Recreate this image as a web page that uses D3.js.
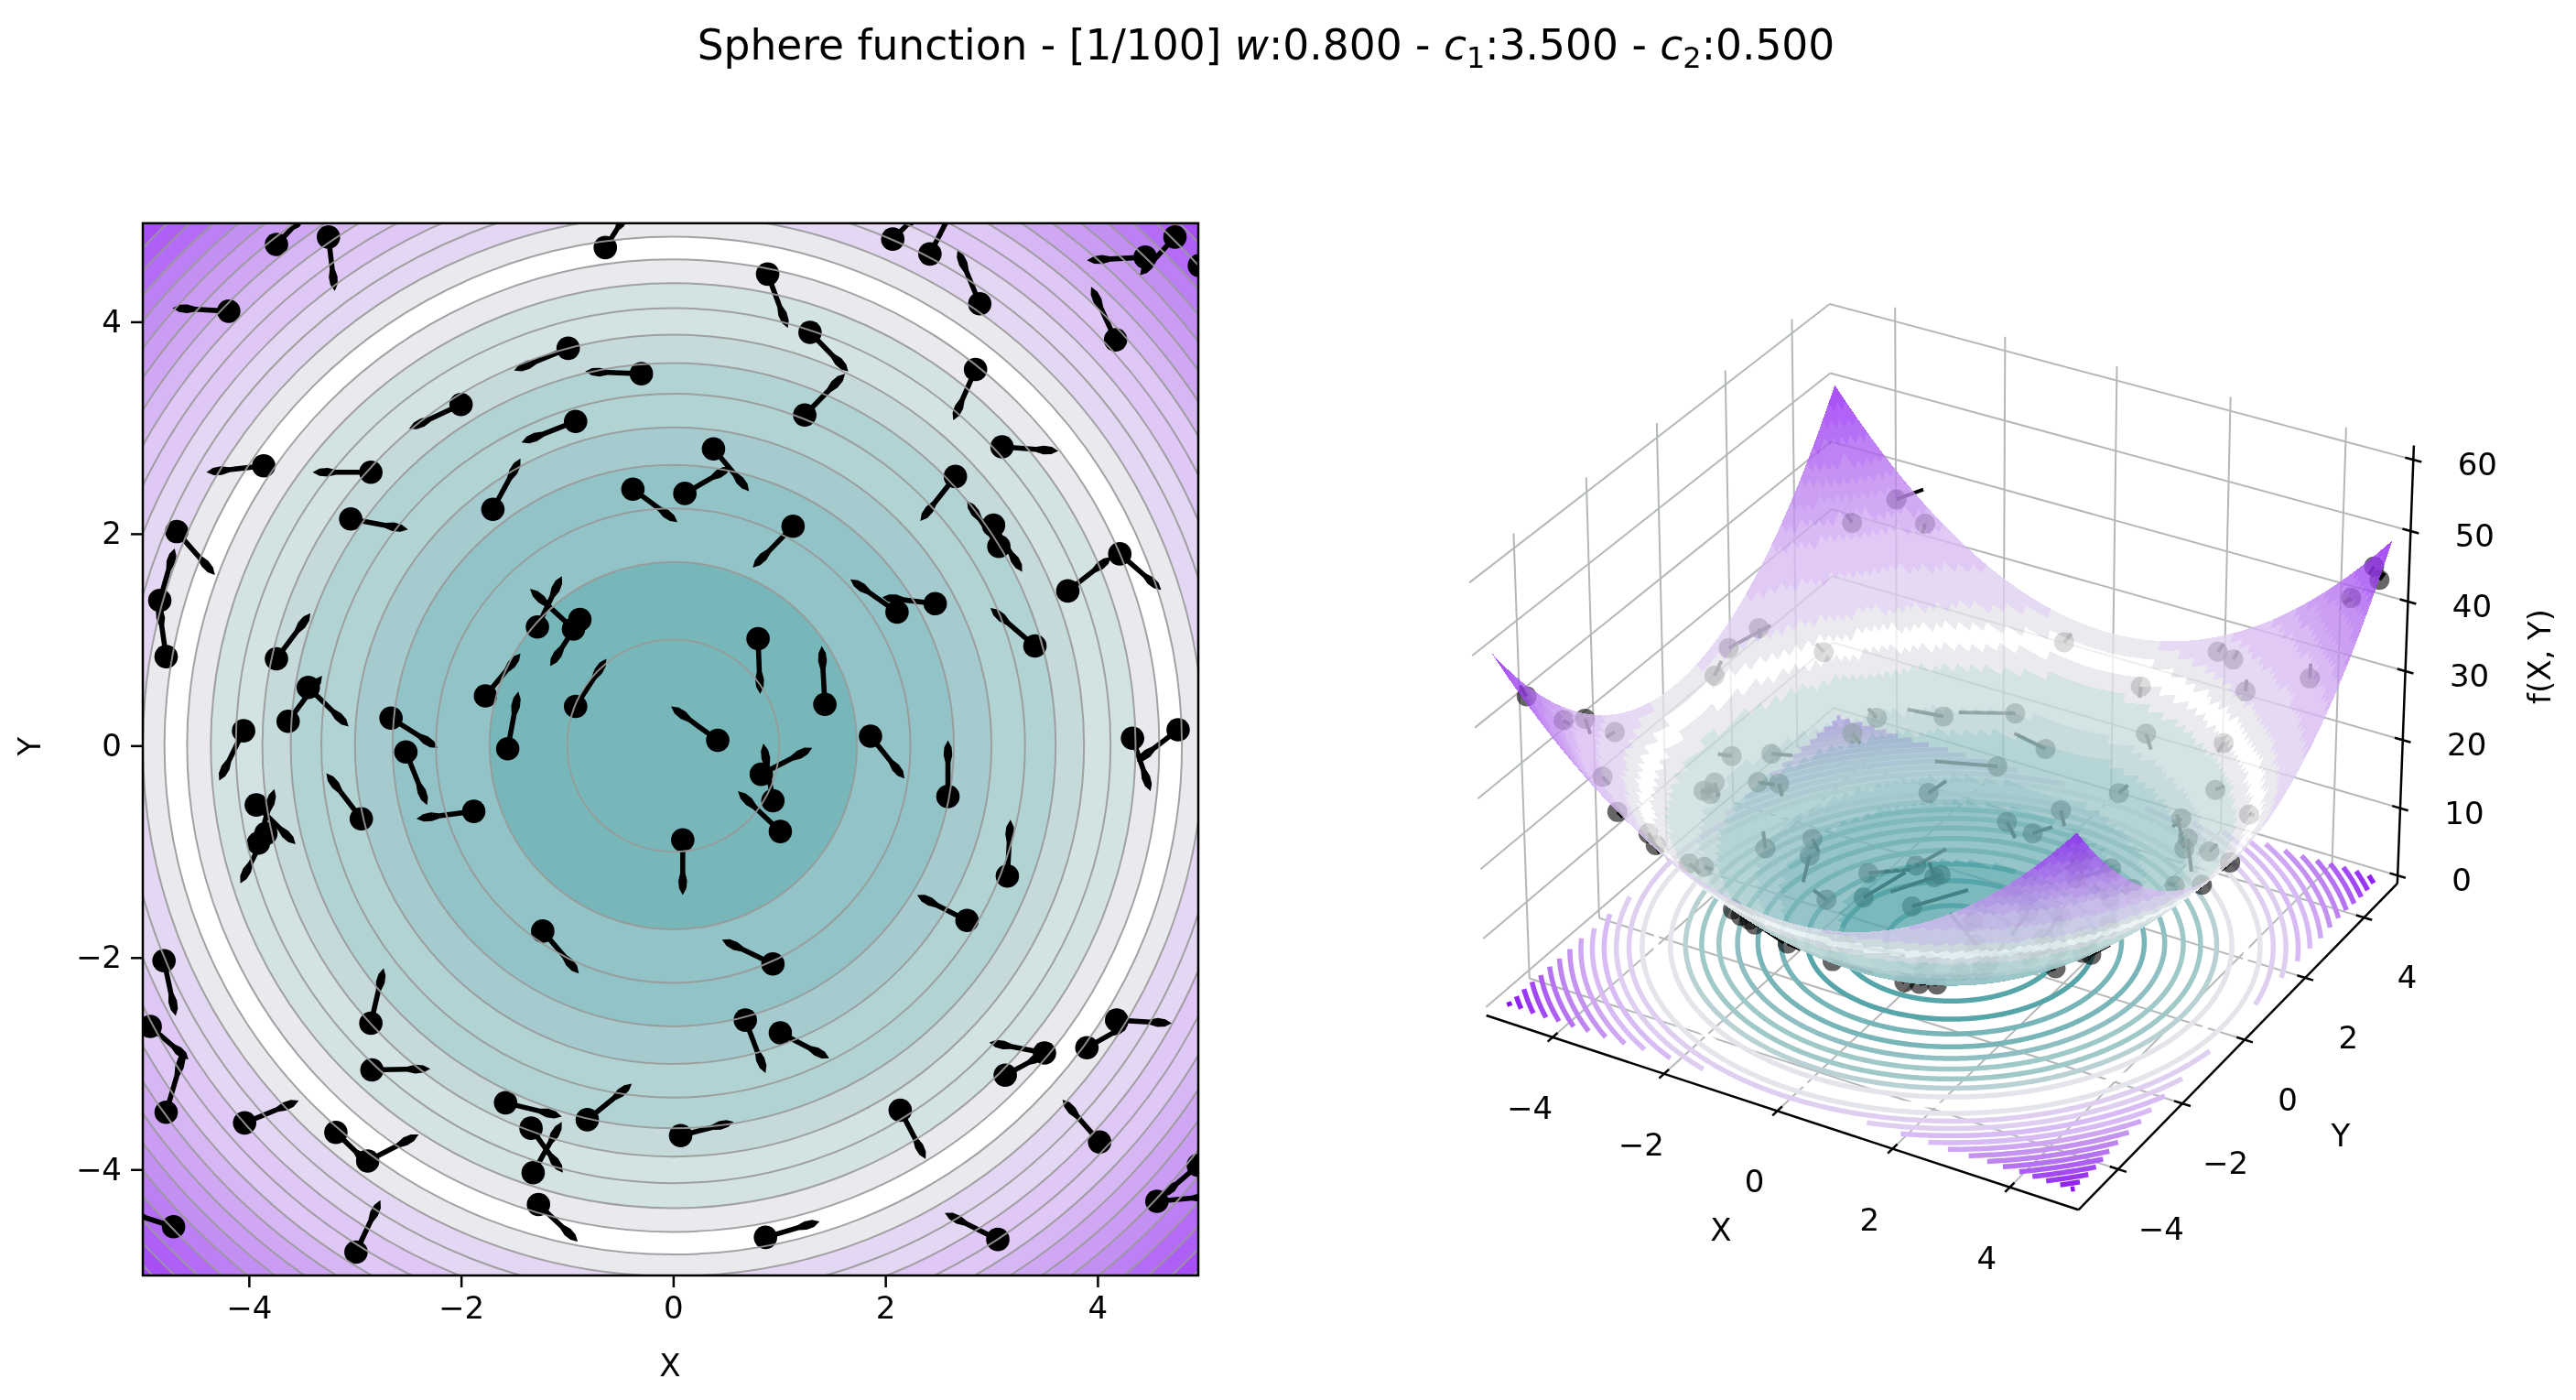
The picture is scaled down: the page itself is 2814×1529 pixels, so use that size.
<!DOCTYPE html>
<html>
<head>
<meta charset="utf-8">
<script src="https://d3js.org/d3.v7.min.js"></script>
<style>
  body { margin: 0; background: #fff; }
  svg { filter: blur(0.7px); }
  text { font-family: "DejaVu Sans", sans-serif; fill: #000; }
</style>
</head>
<body>
<svg id="chart" width="2814" height="1529"></svg>
<script>
  const xTicks = [-4, -2, 0, 2, 4];
  const yTicks = [-4, -2, 0, 2, 4];
  const zTicks = [0, 10, 20, 30, 40, 50, 60];

  const contourLevels = [1, 3, 5, 7, 9, 11, 13, 15, 17, 19, 21, 23, 25, 27, 29, 31, 33, 35, 37, 39, 41, 43, 45, 47, 49];
  const bandColors = ["#56a5a9", "#56a5a9", "#77b5b9", "#77b5b9", "#8fbfc3", "#9fc8c9", "#9fc8c9", "#b8d1d3", "#c8dddd", "#c8dddd",
    "#e4e4ea", "#ffffff", "#e4e4ea", "#decef0", "#decef0", "#d8baf4", "#d8baf4", "#cea6f1", "#c492f1", "#be84f0",
    "#b573f1", "#ac5ff2", "#a248f4", "#9a37f4", "#9224f3", "#8a14f2"];

  // particle positions and velocities
  const partX = [-3.74, -3.25, -4.19, -0.64, -0.99, -0.30, -2.00, -0.92, -3.86, -2.85, -1.70, -3.04, -4.68, -0.38, 0.11, 0.38,
    -4.84, -4.78, -3.74, -3.44, -3.63, -4.05, -2.66, -2.52, -1.28, -0.94, -0.88, -1.77, -1.56, -0.92, 0.42,
    2.07, 2.42, 2.89, 4.73, 4.45, 4.96, 4.17, 0.89, 1.29, 1.24, 2.85, 3.10, 2.66, 3.02, 3.07, 4.21, 3.72, 1.13, 2.47, 2.11, 3.41, 0.80, 1.43, 1.86, 2.59, 4.33, 4.76,
    0.83, 0.94, 1.01, 0.09, 3.15, 2.77, 0.94, 0.68, 1.01, 3.50, 3.13, 4.18, 3.90, 2.14, 0.07, 4.02, 0.87, 3.06, 4.56, 4.95,
    -3.93, -3.91, -3.84, -2.94, -1.88, -1.23, -4.80, -2.85, -2.84, -4.93, -4.78, -1.58, -1.34, -1.32, -0.81, -4.04, -3.18, -2.88, -1.27, -2.99, -4.71];
  const partY = [4.73, 4.80, 4.10, 4.70, 3.75, 3.51, 3.22, 3.06, 2.64, 2.58, 2.23, 2.14, 2.02, 2.42, 2.38, 2.80,
    1.37, 0.84, 0.82, 0.55, 0.23, 0.14, 0.26, -0.06, 1.12, 1.10, 1.19, 0.47, -0.03, 0.37, 0.05,
    4.78, 4.64, 4.17, 4.80, 4.61, 4.53, 3.83, 4.45, 3.90, 3.12, 3.55, 2.82, 2.54, 2.08, 1.88, 1.81, 1.46, 2.07, 1.34, 1.26, 0.94, 1.01, 0.39, 0.09, -0.48, 0.07, 0.15,
    -0.27, -0.52, -0.81, -0.89, -1.23, -1.65, -2.06, -2.59, -2.71, -2.90, -3.11, -2.59, -2.85, -3.44, -3.68, -3.74, -4.64, -4.66, -4.30, -3.96,
    -0.56, -0.92, -0.83, -0.69, -0.62, -1.75, -2.03, -2.62, -3.06, -2.65, -3.46, -3.37, -3.61, -4.03, -3.53, -3.56, -3.65, -3.92, -4.33, -4.78, -4.54];
  const velU = [0.25, 0.06, -0.53, 0.19, -0.51, -0.53, -0.49, -0.51, -0.54, -0.55, 0.26, 0.54, 0.36, 0.42, 0.43, 0.335,
    0.14, -0.07, 0.32, 0.38, 0.32, -0.23, 0.44, 0.20, 0.23, -0.41, -0.28, 0.33, 0.10, 0.29, -0.44,
    0.22, 0.24, -0.21, -0.33, -0.55, 0.40, -0.23, 0.19, 0.36, 0.38, -0.21, 0.53, -0.33, 0.27, -0.30, 0.39, 0.41, -0.38, -0.50, -0.44, -0.42, 0.02, -0.03, 0.32, 0.00, 0.17, -0.39,
    0.48, -0.09, -0.40, 0.00, 0.03, -0.47, -0.48, 0.19, 0.46, -0.52, 0.37, 0.52, 0.39, 0.24, 0.50, -0.35, 0.51, -0.50, 0.55, -0.34,
    0.37, 0.15, -0.24, -0.33, -0.54, 0.34, 0.11, 0.12, 0.55, 0.36, 0.17, 0.53, 0.30, 0.27, 0.42, 0.51, 0.31, 0.48, 0.37, 0.23, -0.44];
  const velV = [0.26, -0.51, 0.03, 0.30, -0.21, 0.02, -0.23, -0.20, -0.06, 0.00, 0.48, -0.10, -0.41, -0.31, 0.25, -0.40,
    0.49, 0.49, 0.43, -0.37, 0.43, -0.47, -0.28, -0.50, 0.48, 0.38, -0.44, 0.40, 0.54, 0.45, 0.32,
    0.22, 0.47, 0.51, -0.36, -0.03, 0.20, 0.50, -0.51, -0.37, 0.39, -0.48, -0.04, -0.42, -0.44, 0.43, -0.34, 0.32, -0.39, 0.06, 0.31, 0.36, -0.52, 0.55, -0.40, 0.53, -0.50, -0.30,
    0.25, 0.54, 0.38, -0.52, 0.53, 0.24, 0.23, -0.50, -0.24, 0.10, 0.20, -0.03, 0.22, -0.46, 0.13, 0.40, 0.15, 0.25, 0.05, -0.29,
    -0.37, 0.51, -0.47, 0.43, -0.07, -0.40, -0.52, 0.52, 0.01, -0.31, 0.58, -0.13, -0.42, 0.48, 0.34, 0.21, -0.30, 0.25, -0.35, 0.49, 0.14];

  const sphere = (x, y) => x * x + y * y;
  const particles = partX.map((x, i) => ({ x: x, y: partY[i], u: velU[i], v: velV[i] }));
  const bandColor = d3.scaleThreshold().domain(contourLevels).range(bandColors);

  const svg = d3.select("#chart");

  // ---------- title ----------
  const title = svg.append("text").attr("x", 1383).attr("y", 65).attr("text-anchor", "middle").style("font-size", "45.5px");
  title.append("tspan").text("Sphere function - [1/100] ");
  title.append("tspan").style("font-style", "italic").text("w");
  title.append("tspan").text(":0.800 - ");
  title.append("tspan").style("font-style", "italic").text("c");
  title.append("tspan").attr("dy", 9).style("font-size", "32px").text("1");
  title.append("tspan").attr("dy", -9).text(":3.500 - ");
  title.append("tspan").style("font-style", "italic").text("c");
  title.append("tspan").attr("dy", 9).style("font-size", "32px").text("2");
  title.append("tspan").attr("dy", -9).text(":0.500");

  // ---------- left panel ----------
  const x2d = d3.scaleLinear().domain([-5, 4.95]).range([156, 1309]);
  const y2d = d3.scaleLinear().domain([-5, 4.93]).range([1393, 243.8]);
  const radiusOf = lev => x2d(Math.sqrt(lev)) - x2d(0);

  svg.append("clipPath").attr("id", "plot2d").append("rect")
    .attr("x", x2d(-5)).attr("y", y2d(4.93))
    .attr("width", x2d(4.95) - x2d(-5)).attr("height", y2d(-5) - y2d(4.93));

  const panel = svg.append("g").attr("clip-path", "url(#plot2d)");
  const fills = panel.append("g").attr("opacity", 0.8);
  fills.append("rect")
    .attr("x", x2d(-5)).attr("y", y2d(4.93))
    .attr("width", x2d(4.95) - x2d(-5)).attr("height", y2d(-5) - y2d(4.93))
    .attr("fill", bandColors[bandColors.length - 1]);
  fills.selectAll("circle")
    .data(contourLevels.slice().reverse())
    .join("circle")
    .attr("cx", x2d(0)).attr("cy", y2d(0))
    .attr("r", radiusOf)
    .attr("fill", d => bandColors[contourLevels.indexOf(d)]);

  function arrowPath(d) {
    const x0 = x2d(d.x), y0 = y2d(d.y);
    const x1 = x2d(d.x + d.u), y1 = y2d(d.y + d.v);
    const len = Math.hypot(x1 - x0, y1 - y0);
    const ax = (x1 - x0) / len, ay = (y1 - y0) / len;
    const nx = -ay, ny = ax;
    const pt = (t, w) => [x0 + ax * len * t + nx * w, y0 + ay * len * t + ny * w];
    const prof = [[0, 2.8], [0.6, 2.8], [0.74, 4.8], [0.88, 4], [1, 0]];
    const p = d3.path();
    p.moveTo(...pt(0, 2.8));
    prof.forEach(q => p.lineTo(...pt(q[0], q[1])));
    prof.slice().reverse().forEach(q => p.lineTo(...pt(q[0], -q[1])));
    p.closePath();
    return p.toString();
  }

  panel.selectAll("path.arrow")
    .data(particles)
    .join("path")
    .attr("class", "arrow")
    .attr("d", arrowPath)
    .attr("fill", "#000");

  panel.selectAll("circle.part")
    .data(particles)
    .join("circle")
    .attr("class", "part")
    .attr("cx", d => x2d(d.x)).attr("cy", d => y2d(d.y))
    .attr("r", 12.8)
    .attr("fill", "#000");

  panel.selectAll("circle.level")
    .data(contourLevels)
    .join("circle")
    .attr("class", "level")
    .attr("cx", x2d(0)).attr("cy", y2d(0))
    .attr("r", radiusOf)
    .attr("fill", "none")
    .attr("stroke", "#999")
    .attr("stroke-opacity", 0.9)
    .attr("stroke-width", 2);

  svg.append("rect")
    .attr("x", x2d(-5)).attr("y", y2d(4.93))
    .attr("width", x2d(4.95) - x2d(-5)).attr("height", y2d(-5) - y2d(4.93))
    .attr("fill", "none").attr("stroke", "#000").attr("stroke-width", 2.5);

  const xAxis = svg.append("g").attr("transform", `translate(0,${y2d(-5)})`)
    .call(d3.axisBottom(x2d).tickValues(xTicks).tickSize(13).tickPadding(10));
  const yAxis = svg.append("g").attr("transform", `translate(${x2d(-5)},0)`)
    .call(d3.axisLeft(y2d).tickValues(yTicks).tickSize(13).tickPadding(10));
  [xAxis, yAxis].forEach(a => {
    a.select(".domain").remove();
    a.selectAll("line").attr("stroke", "#000").attr("stroke-width", 2.5);
    a.selectAll("text").style("font-family", '"DejaVu Sans", sans-serif').style("font-size", "34px");
  });

  svg.append("text").attr("x", 732).attr("y", 1503).attr("text-anchor", "middle").style("font-size", "34px").text("X");
  svg.append("text").attr("transform", "translate(44,815) rotate(-90)").attr("text-anchor", "middle").style("font-size", "34px").text("Y");

  // ---------- right panel: 3D view ----------
  const xLim = [-5.207, 5.157], yLim = [-5.207, 5.157], zLim = [-1.2, 62];
  const xBox = d3.scaleLinear().domain(xLim).range([-0.5, 0.5]);
  const yBox = d3.scaleLinear().domain(yLim).range([-0.5, 0.5]);
  const zBox = d3.scaleLinear().domain(zLim).range([-0.375, 0.36]);
  const elev = 30 * Math.PI / 180, azim = -60 * Math.PI / 180, dist = 10;
  const n = [Math.cos(elev) * Math.cos(azim), Math.cos(elev) * Math.sin(azim), Math.sin(elev)];
  const u = [-Math.sin(azim), Math.cos(azim), 0];
  const v = [n[1] * u[2] - n[2] * u[1], n[2] * u[0] - n[0] * u[2], n[0] * u[1] - n[1] * u[0]];
  const dot = (a, b) => a[0] * b[0] + a[1] * b[1] + a[2] * b[2];
  const screenX = d3.scaleLinear().domain([-1, 1]).range([2129 - 742, 2129 + 742]);
  const screenY = d3.scaleLinear().domain([-1, 1]).range([793.6 + 760, 793.6 - 760]);

  function project(x, y, z) {
    const p = [xBox(x), yBox(y), zBox(z)];
    const depth = dist - dot(n, p);
    return { sx: screenX(dot(u, p) * dist / depth), sy: screenY(dot(v, p) * dist / depth), depth: depth };
  }
  const seg = (g, a, b, stroke, w) => g.append("line")
    .attr("x1", a.sx).attr("y1", a.sy).attr("x2", b.sx).attr("y2", b.sy)
    .attr("stroke", stroke).attr("stroke-width", w);

  const grid = svg.append("g");
  const gridColor = "#b4b8b8";
  xTicks.forEach(t => {
    seg(grid, project(t, yLim[0], zLim[0]), project(t, yLim[1], zLim[0]), gridColor, 2);
    seg(grid, project(t, yLim[1], zLim[0]), project(t, yLim[1], zLim[1]), gridColor, 2);
  });
  yTicks.forEach(t => {
    seg(grid, project(xLim[0], t, zLim[0]), project(xLim[1], t, zLim[0]), gridColor, 2);
    seg(grid, project(xLim[0], t, zLim[0]), project(xLim[0], t, zLim[1]), gridColor, 2);
  });
  zTicks.forEach(t => {
    seg(grid, project(xLim[0], yLim[0], t), project(xLim[0], yLim[1], t), gridColor, 2);
    seg(grid, project(xLim[0], yLim[1], t), project(xLim[1], yLim[1], t), gridColor, 2);
  });

  // contour rings on the floor
  const angles = d3.range(0, 721).map(i => i * Math.PI / 360);
  const ringLine = d3.line()
    .defined(d => Math.abs(d.x + 0.025) <= 4.975 && Math.abs(d.y + 0.025) <= 4.975)
    .x(d => d.p.sx).y(d => d.p.sy);
  svg.append("g").selectAll("path")
    .data(contourLevels)
    .join("path")
    .attr("d", lev => {
      const r = Math.sqrt(lev);
      return ringLine(angles.map(a => {
        const x = r * Math.cos(a), y = r * Math.sin(a);
        return { x: x, y: y, p: project(x, y, 0) };
      }));
    })
    .attr("fill", "none")
    .attr("stroke", lev => lev < 19 ? bandColor(lev - 3) : bandColor(lev))
    .attr("stroke-width", 5.5);

  // particles sit under the surface; the 3D arrows are unit length in data space
  const parts3d = svg.append("g");
  particles.forEach(d => {
    const z = sphere(d.x, d.y);
    const w = sphere(d.x + d.u, d.y + d.v) - z;
    const norm = Math.hypot(d.u, d.v, w);
    const a = project(d.x, d.y, z);
    const b = project(d.x + d.u / norm, d.y + d.v / norm, z + w / norm);
    seg(parts3d, a, b, "#000", 4);
    parts3d.append("circle").attr("cx", a.sx).attr("cy", a.sy).attr("r", 11).attr("fill", "#000").attr("fill-opacity", 0.6);
  });

  // surface, drawn back to front
  const cellCount = 100;
  const grid3d = d3.range(cellCount + 1).map(i => -5 + i * 9.95 / cellCount);
  const cells = [];
  d3.range(cellCount).forEach(i => d3.range(cellCount).forEach(j => {
    const c = [[grid3d[i], grid3d[j]], [grid3d[i + 1], grid3d[j]], [grid3d[i + 1], grid3d[j + 1]], [grid3d[i], grid3d[j + 1]]];
    const pts = c.map(q => project(q[0], q[1], sphere(q[0], q[1])));
    cells.push({
      pts: pts,
      depth: d3.mean(pts, p => p.depth),
      z: d3.mean(c, q => sphere(q[0], q[1]))
    });
  }));
  cells.sort((a, b) => b.depth - a.depth);
  svg.append("g").attr("shape-rendering", "crispEdges").selectAll("polygon")
    .data(cells)
    .join("polygon")
    .attr("points", d => d.pts.map(p => `${p.sx.toFixed(2)},${p.sy.toFixed(2)}`).join(" "))
    .attr("fill", d => bandColor(d.z))
    .attr("fill-opacity", 0.78);

  // 3D axes
  const axes = svg.append("g");
  seg(axes, project(xLim[0], yLim[0], zLim[0]), project(xLim[1], yLim[0], zLim[0]), "#000", 2.5);
  seg(axes, project(xLim[1], yLim[0], zLim[0]), project(xLim[1], yLim[1], zLim[0]), "#000", 2.5);
  seg(axes, project(xLim[1], yLim[1], zLim[0]), project(xLim[1], yLim[1], zLim[1]), "#000", 2.5);

  const label3d = (p, dx, dy, txt) => axes.append("text")
    .attr("x", p.sx + dx).attr("y", p.sy + dy)
    .attr("text-anchor", "middle").attr("dominant-baseline", "central")
    .style("font-size", "34px").text(txt);
  const fmt = d3.format("d");

  xTicks.forEach(t => {
    seg(axes, project(t, yLim[0] - 0.14, zLim[0]), project(t, yLim[0] + 0.14, zLim[0]), "#000", 2.5);
    label3d(project(t, yLim[0], zLim[0]), -25, 77, fmt(t));
  });
  yTicks.forEach(t => {
    seg(axes, project(xLim[1] - 0.14, t, zLim[0]), project(xLim[1] + 0.14, t, zLim[0]), "#000", 2.5);
    label3d(project(xLim[1], t, zLim[0]), 47, 65, fmt(t));
  });
  zTicks.forEach(t => {
    seg(axes, project(xLim[1] - 0.14, yLim[1], t), project(xLim[1] + 0.14, yLim[1], t), "#000", 2.5);
    label3d(project(xLim[1], yLim[1], t), 70, 5, fmt(t));
  });

  svg.append("text").attr("x", 1880).attr("y", 1343).attr("text-anchor", "middle").attr("dominant-baseline", "central").style("font-size", "34px").text("X");
  svg.append("text").attr("x", 2557).attr("y", 1240).attr("text-anchor", "middle").attr("dominant-baseline", "central").style("font-size", "34px").text("Y");
  svg.append("text").attr("transform", "translate(2774,717) rotate(-90)").attr("text-anchor", "middle").attr("dominant-baseline", "central").style("font-size", "34px").text("f(X, Y)");
</script>
</body>
</html>
